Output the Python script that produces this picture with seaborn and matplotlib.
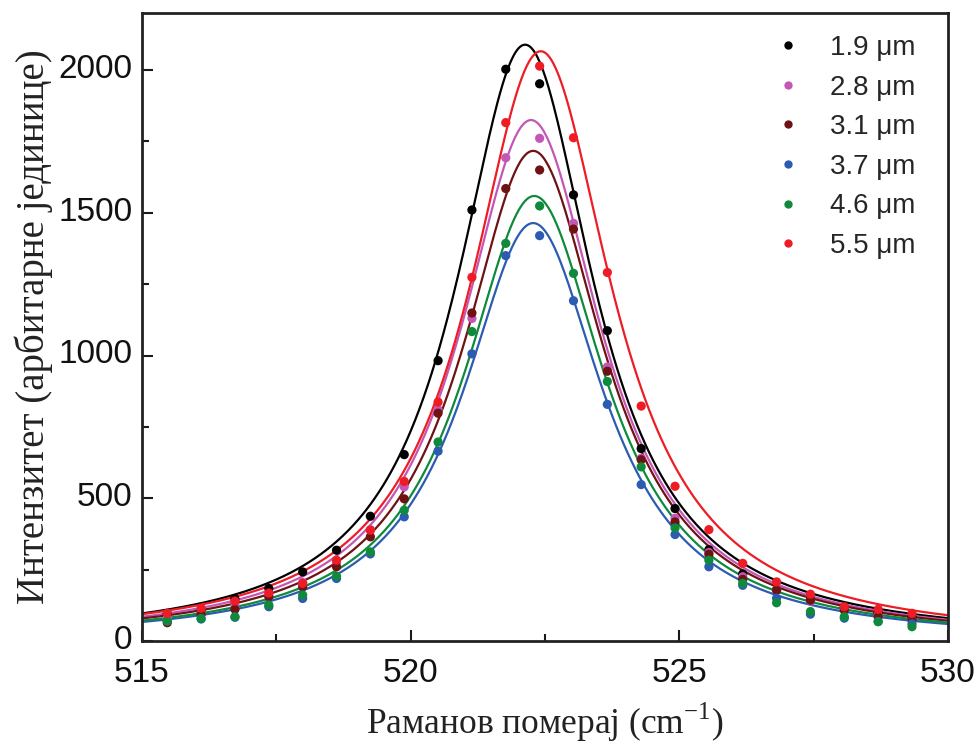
import numpy as np
import pandas as pd
import matplotlib
matplotlib.use("Agg")
import matplotlib.pyplot as plt
import matplotlib.transforms as mtransforms
from matplotlib.lines import Line2D
from matplotlib.ticker import MultipleLocator
import seaborn as sns

# ---- data ----
labels = ["1.9 μm", "2.8 μm", "3.1 μm", "3.7 μm", "4.6 μm", "5.5 μm"]
colors = ["#000000", "#c457b6", "#6e1214", "#2b5cb2", "#0f8a3c", "#ee1c25"]

shift = [515.47, 516.10, 516.73, 517.36, 517.99, 518.62, 519.25, 519.88,
         520.51, 521.14, 521.77, 522.40, 523.03, 523.66, 524.29, 524.92,
         525.55, 526.18, 526.81, 527.44, 528.07, 528.70, 529.33]

i_19 = [95, 105, 147, 184, 242, 318, 437, 653, 982, 1510, 2003, 1952,
        1563, 1087, 674, 464, 320, 235, 180, 145, 118, 98, 83]
i_28 = [80, 100, 125, 160, 205, 275, 390, 540, 810, 1130, 1693, 1761,
        1463, 960, 640, 430, 310, 225, 180, 140, 110, 90, 75]
i_31 = [64, 93, 111, 155, 190, 260, 365, 498, 798, 1149, 1585, 1650,
        1443, 945, 635, 417, 304, 216, 178, 143, 108, 85, 73]
i_37 = [70, 77, 83, 120, 149, 219, 305, 435, 665, 1006, 1350, 1420,
        1192, 829, 548, 373, 260, 195, 150, 94, 80, 68, 60]
i_46 = [70, 79, 85, 126, 161, 227, 312, 458, 697, 1084, 1393, 1524,
        1288, 909, 610, 396, 283, 202, 134, 103, 85, 68, 50]
i_55 = [97, 115, 140, 168, 202, 283, 388, 559, 837, 1274, 1816, 2014,
        1763, 1291, 823, 542, 390, 272, 207, 164, 120, 111, 97]

# Lorentzian fit parameters (centre, height, half width)
fit_center = [522.13, 522.24, 522.28, 522.28, 522.30, 522.42]
fit_height = [2089, 1825, 1717, 1464, 1559, 2066]
fit_hwhm = [1.57, 1.60, 1.60, 1.59, 1.60, 1.62]

series = [i_19, i_28, i_31, i_37, i_46, i_55]

# ---- build tables ----
pts = pd.concat([pd.DataFrame({"x": shift, "y": s, "lab": l})
                 for s, l in zip(series, labels)], ignore_index=True)
xf = np.linspace(515, 530, 600)
fits = pd.concat([pd.DataFrame({"x": xf,
                                "y": h / (1 + ((xf - c) / w) ** 2),
                                "lab": l})
                  for c, h, w, l in zip(fit_center, fit_height, fit_hwhm, labels)],
                 ignore_index=True)

sns.set_theme(style="ticks")
plt.rcParams["font.family"] = ["Liberation Sans", "DejaVu Sans"]
plt.rcParams["mathtext.fontset"] = "custom"
plt.rcParams["mathtext.rm"] = "Liberation Serif"

fig = plt.figure(figsize=(9.77, 7.48), dpi=100)
ax = fig.add_axes([142 / 977, 1 - 641 / 748, (948 - 142) / 977, (641 - 13) / 748])

pal = dict(zip(labels, colors))
sns.lineplot(data=fits, x="x", y="y", hue="lab", hue_order=labels, palette=pal,
             linewidth=1.6, legend=False, ax=ax, sort=False)
sns.scatterplot(data=pts, x="x", y="y", hue="lab", hue_order=labels, palette=pal,
                s=44, linewidth=0, legend=False, ax=ax, zorder=3)

ax.set_xlim(515, 530)
ax.set_ylim(0, 2200)
ax.xaxis.set_major_locator(MultipleLocator(5))
ax.xaxis.set_minor_locator(MultipleLocator(2.5))
ax.yaxis.set_major_locator(MultipleLocator(500))
ax.yaxis.set_minor_locator(MultipleLocator(250))
ax.tick_params(which="both", direction="in", top=False, right=False,
               width=1.5, colors="#1a1a1a", labelsize=24, labelcolor="#111111")
ax.tick_params(which="major", length=8)
ax.tick_params(which="minor", length=5)
ax.tick_params(axis="x", pad=12)
ax.tick_params(axis="y", pad=7)
for sp in ax.spines.values():
    sp.set_linewidth(2.0)
    sp.set_color("#222222")
    sp.set_visible(True)

# nudge y tick labels slightly upward, as in the reference
up = mtransforms.ScaledTranslation(0, 3 / 72, fig.dpi_scale_trans)
for lbl in ax.get_yticklabels():
    lbl.set_transform(lbl.get_transform() + up)

serif = ["Liberation Serif", "DejaVu Serif"]
ax.set_xlabel("Раманов померај (cm$^{\\mathregular{-1}}$)", family=serif,
              fontsize=25.5, color="#222222", labelpad=9)
ax.set_ylabel("Интензитет (арбитарне јединице)", family=serif,
              fontsize=28, color="#222222", labelpad=4)

handles = [Line2D([0], [0], marker="o", linestyle="none", markersize=6,
                  markerfacecolor=c, markeredgewidth=0) for c in colors]
leg = ax.legend(handles, labels, loc="upper left",
                bbox_to_anchor=((774 - 142) / 806, (641 - 35) / 628),
                frameon=False, fontsize=20, handlelength=1.0,
                handletextpad=1.0, labelspacing=0.49, borderpad=0,
                borderaxespad=0)

fig.savefig("out.png", dpi=100)
